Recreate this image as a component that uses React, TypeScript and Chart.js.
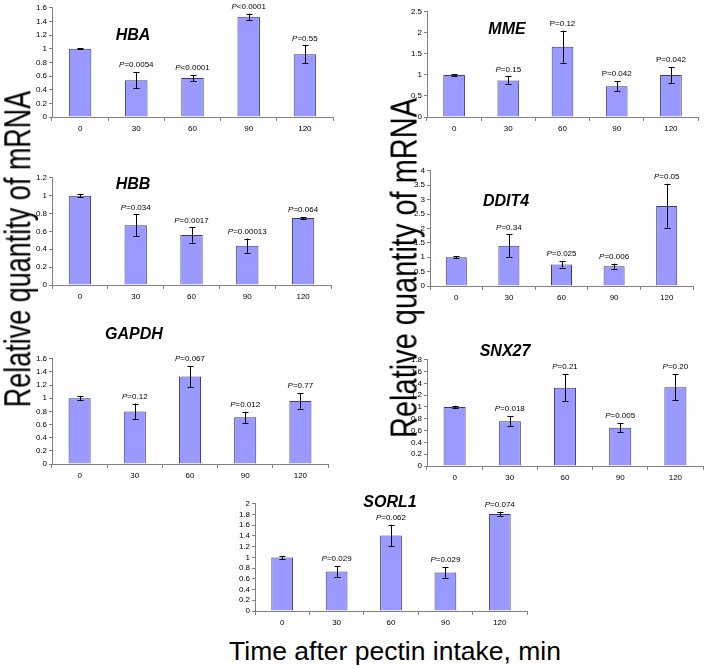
import React, { useEffect, useRef } from 'react';
import { Chart, registerables } from 'chart.js';

Chart.register(...registerables);

// ---------------- DATA ----------------
const timePoints = ['0', '30', '60', '90', '120'];

const hbaMean = [1.0, 0.54, 0.57, 1.47, 0.92];
const hbaErr = [0.01, 0.12, 0.045, 0.045, 0.13];
const hbaP = ['', 'P=0.0054', 'P<0.0001', 'P<0.0001', 'P=0.55'];
const hbaTicks = [0, 0.2, 0.4, 0.6, 0.8, 1, 1.2, 1.4, 1.6];

const hbbMean = [1.0, 0.67, 0.56, 0.44, 0.75];
const hbbErr = [0.02, 0.12, 0.085, 0.08, 0.01];
const hbbP = ['', 'P=0.034', 'P=0.0017', 'P=0.00013', 'P=0.064'];
const hbbTicks = [0, 0.2, 0.4, 0.6, 0.8, 1, 1.2];

const gapdhMean = [1.0, 0.8, 1.33, 0.71, 0.96];
const gapdhErr = [0.03, 0.12, 0.16, 0.085, 0.12];
const gapdhP = ['', 'P=0.12', 'P=0.067', 'P=0.012', 'P=0.77'];
const gapdhTicks = [0, 0.2, 0.4, 0.6, 0.8, 1, 1.2, 1.4, 1.6];

const mmeMean = [1.0, 0.87, 1.67, 0.73, 1.0];
const mmeErr = [0.02, 0.095, 0.38, 0.12, 0.19];
const mmeP = ['', 'P=0.15', 'P=0.12', 'P=0.042', 'P=0.042'];
const mmePItalic = [true, true, false, false, false];
const mmeTicks = [0, 0.5, 1, 1.5, 2, 2.5];

const ddit4Mean = [1.0, 1.4, 0.75, 0.69, 2.78];
const ddit4Err = [0.03, 0.39, 0.11, 0.085, 0.77];
const ddit4P = ['', 'P=0.34', 'P=0.025', 'P=0.006', 'P=0.05'];
const ddit4Ticks = [0, 0.5, 1, 1.5, 2, 2.5, 3, 3.5, 4];

const snx27Mean = [1.0, 0.76, 1.325, 0.65, 1.335];
const snx27Err = [0.02, 0.085, 0.23, 0.08, 0.22];
const snx27P = ['', 'P=0.018', 'P=0.21', 'P=0.005', 'P=0.20'];
const snx27Ticks = [0, 0.2, 0.4, 0.6, 0.8, 1, 1.2, 1.4, 1.6, 1.8];

const sorl1Mean = [1.0, 0.735, 1.41, 0.72, 1.81];
const sorl1Err = [0.03, 0.1, 0.2, 0.1, 0.04];
const sorl1P = ['', 'P=0.029', 'P=0.062', 'P=0.029', 'P=0.074'];
const sorl1Ticks = [0, 0.2, 0.4, 0.6, 0.8, 1, 1.2, 1.4, 1.6, 1.8, 2];

const yTitle = 'Relative quantity of mRNA';
const xTitle = 'Time after pectin intake, min';

// ---------------- STYLE / LAYOUT ----------------
const FONT = 'Arial, "Liberation Sans", Helvetica, sans-serif';
const BAR_FILL = '#9999FF';
const BAR_EDGE = '#3a3a7a';
const AXIS_COLOR = '#808080';
const AXIS_W = 40;
const X_AXIS_H = 20;
const PAD_T = 6;
const PAD_R = 6;

const allItalic = [true, true, true, true, true];

const panels = [
  { gene: 'HBA', mean: hbaMean, err: hbaErr, p: hbaP, pItalic: allItalic, ticks: hbaTicks,
    box: { l: 52, r: 333, t: 7, b: 117 }, label: { x: 133, y: 35 } },
  { gene: 'HBB', mean: hbbMean, err: hbbErr, p: hbbP, pItalic: allItalic, ticks: hbbTicks,
    box: { l: 52, r: 331, t: 177, b: 285 }, label: { x: 133, y: 184 } },
  { gene: 'GAPDH', mean: gapdhMean, err: gapdhErr, p: gapdhP, pItalic: allItalic, ticks: gapdhTicks,
    box: { l: 52, r: 328, t: 358, b: 464 }, label: { x: 134, y: 334 } },
  { gene: 'MME', mean: mmeMean, err: mmeErr, p: mmeP, pItalic: mmePItalic, ticks: mmeTicks,
    box: { l: 427, r: 698, t: 11, b: 117 }, label: { x: 507, y: 29 } },
  { gene: 'DDIT4', mean: ddit4Mean, err: ddit4Err, p: ddit4P, pItalic: allItalic, ticks: ddit4Ticks,
    box: { l: 430, r: 693, t: 170, b: 286 }, label: { x: 506, y: 201 } },
  { gene: 'SNX27', mean: snx27Mean, err: snx27Err, p: snx27P, pItalic: allItalic, ticks: snx27Ticks,
    box: { l: 427, r: 703, t: 359, b: 466 }, label: { x: 505, y: 351 } },
  { gene: 'SORL1', mean: sorl1Mean, err: sorl1Err, p: sorl1P, pItalic: allItalic, ticks: sorl1Ticks,
    box: { l: 255, r: 527, t: 503, b: 611 }, label: { x: 390, y: 502 } },
];

type PanelCfg = typeof panels[number];

function Panel({ cfg }: { cfg: PanelCfg }) {
  const ref = useRef<HTMLCanvasElement | null>(null);
  const { box } = cfg;
  const width = box.r - box.l + AXIS_W + PAD_R;
  const height = box.b - box.t + PAD_T + X_AXIS_H;

  useEffect(() => {
    if (!ref.current) return;
    const ticks = cfg.ticks;
    const errPlugin = {
      id: 'errAndP',
      afterDatasetsDraw(chart: any) {
        const ctx = chart.ctx;
        const meta = chart.getDatasetMeta(0);
        const ys = chart.scales.y;
        ctx.save();
        ctx.strokeStyle = '#000';
        ctx.lineWidth = 1;
        meta.data.forEach((bar: any, i: number) => {
          const x = Math.round(bar.x) + 0.5;
          const top = ys.getPixelForValue(cfg.mean[i] + cfg.err[i]);
          const bot = ys.getPixelForValue(cfg.mean[i] - cfg.err[i]);
          ctx.beginPath();
          ctx.moveTo(x, top);
          ctx.lineTo(x, bot);
          ctx.moveTo(x - 3, Math.round(top) + 0.5);
          ctx.lineTo(x + 3, Math.round(top) + 0.5);
          ctx.moveTo(x - 3, Math.round(bot) + 0.5);
          ctx.lineTo(x + 3, Math.round(bot) + 0.5);
          ctx.stroke();

          const txt = cfg.p[i];
          if (txt) {
            const first = txt.charAt(0);
            const rest = txt.slice(1);
            const fItalic = (cfg.pItalic[i] ? 'italic ' : '') + '8px ' + FONT;
            const fNormal = '8px ' + FONT;
            ctx.font = fItalic;
            const w1 = ctx.measureText(first).width;
            ctx.font = fNormal;
            const w2 = ctx.measureText(rest).width;
            const start = bar.x - (w1 + w2) / 2;
            const ty = top - 7;
            ctx.fillStyle = '#000';
            ctx.textBaseline = 'middle';
            ctx.textAlign = 'left';
            ctx.font = fItalic;
            ctx.fillText(first, start, ty);
            ctx.font = fNormal;
            ctx.fillText(rest, start + w1, ty);
          }
        });
        ctx.restore();
      },
    };

    const chart = new Chart(ref.current, {
      type: 'bar',
      data: {
        labels: timePoints,
        datasets: [
          {
            data: cfg.mean,
            backgroundColor: BAR_FILL,
            borderColor: BAR_EDGE,
            borderWidth: 1,
            barPercentage: 0.4,
            categoryPercentage: 1,
          },
        ],
      },
      options: {
        animation: false,
        responsive: false,
        maintainAspectRatio: false,
        devicePixelRatio: 1,
        layout: { padding: { top: PAD_T, right: PAD_R, left: 0, bottom: 0 } },
        plugins: { legend: { display: false }, tooltip: { enabled: false }, title: { display: false } },
        scales: {
          x: {
            type: 'category',
            offset: true,
            grid: {
              display: true,
              offset: true,
              drawOnChartArea: false,
              drawTicks: true,
              tickLength: 4,
              color: AXIS_COLOR,
            },
            border: { display: true, color: AXIS_COLOR, width: 1 },
            ticks: {
              color: '#000',
              font: { family: FONT, size: 8 },
              padding: 3,
              autoSkip: false,
              maxRotation: 0,
            },
            afterFit: (s: any) => {
              s.height = X_AXIS_H;
            },
          },
          y: {
            min: ticks[0],
            max: ticks[ticks.length - 1],
            grid: {
              display: true,
              drawOnChartArea: false,
              drawTicks: true,
              tickLength: 3,
              color: AXIS_COLOR,
            },
            border: { display: true, color: AXIS_COLOR, width: 1 },
            ticks: {
              stepSize: ticks[1] - ticks[0],
              autoSkip: false,
              color: '#000',
              font: { family: FONT, size: 8 },
              padding: 2,
              callback: (v: any) => String(+Number(v).toFixed(2)),
            },
            afterFit: (s: any) => {
              s.width = AXIS_W;
            },
          },
        },
      },
      plugins: [errPlugin],
    } as any);
    return () => chart.destroy();
  }, [cfg]);

  return (
    <>
      <canvas
        ref={ref}
        width={width}
        height={height}
        style={{
          position: 'absolute',
          left: box.l - AXIS_W,
          top: box.t - PAD_T,
          width,
          height,
        }}
      />
      <div
        style={{
          position: 'absolute',
          left: cfg.label.x,
          top: cfg.label.y,
          transform: 'translate(-50%, -50%)',
          font: `italic bold 16px ${FONT}`,
          lineHeight: 1,
          whiteSpace: 'nowrap',
          color: '#000',
        }}
      >
        {cfg.gene}
      </div>
    </>
  );
}

export default function App() {
  return (
    <div
      style={{
        position: 'absolute',
        left: 0,
        top: 0,
        width: 706,
        height: 669,
        background: '#fff',
        overflow: 'hidden',
        fontFamily: FONT,
      }}
    >
      {panels.map((p) => (
        <Panel key={p.gene} cfg={p} />
      ))}
      <div
        style={{
          position: 'absolute',
          left: 17.5,
          top: 249,
          transform: 'translate(-50%, -50%) rotate(-90deg) scaleY(1.4)',
          font: `27px ${FONT}`,
          lineHeight: 1,
          whiteSpace: 'nowrap',
          color: '#000',
        }}
      >
        {yTitle}
      </div>
      <div
        style={{
          position: 'absolute',
          left: 404,
          top: 268,
          transform: 'translate(-50%, -50%) rotate(-90deg) scaleY(1.3)',
          font: `29px ${FONT}`,
          lineHeight: 1,
          whiteSpace: 'nowrap',
          color: '#000',
        }}
      >
        {yTitle}
      </div>
      <div
        style={{
          position: 'absolute',
          left: 395,
          top: 637.5,
          transform: 'translateX(-50%)',
          font: `26.5px ${FONT}`,
          lineHeight: 1,
          whiteSpace: 'nowrap',
          color: '#000',
        }}
      >
        {xTitle}
      </div>
    </div>
  );
}
